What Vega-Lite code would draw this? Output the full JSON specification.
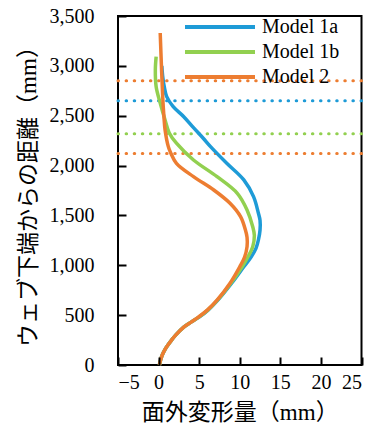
{
  "$schema": "https://vega.github.io/schema/vega-lite/v6.json",
  "width": 243.5,
  "height": 349,
  "autosize": {"type": "none"},
  "padding": {"left": 118, "top": 16, "right": 21, "bottom": 63},
  "background": "white",
  "config": {
    "view": {"stroke": "black", "strokeWidth": 2},
    "font": "Liberation Serif, Noto Sans CJK JP",
    "axis": {
      "domain": false,
      "grid": false,
      "labelColor": "black",
      "labelFontSize": 20,
      "labelFont": "Liberation Serif",
      "titleColor": "black",
      "titleFontSize": 23,
      "titleFontWeight": "normal",
      "titleFont": "Liberation Serif, Noto Sans CJK JP"
    }
  },
  "datasets": {
    "curves": [
      {"model": "Model 1a", "y": 0, "x": 0.1},
      {"model": "Model 1a", "y": 50, "x": 0.25},
      {"model": "Model 1a", "y": 100, "x": 0.45},
      {"model": "Model 1a", "y": 150, "x": 0.75},
      {"model": "Model 1a", "y": 200, "x": 1.15},
      {"model": "Model 1a", "y": 250, "x": 1.6},
      {"model": "Model 1a", "y": 300, "x": 2.1},
      {"model": "Model 1a", "y": 380, "x": 3.1},
      {"model": "Model 1a", "y": 430, "x": 4.0},
      {"model": "Model 1a", "y": 480, "x": 5.0},
      {"model": "Model 1a", "y": 550, "x": 6.1},
      {"model": "Model 1a", "y": 650, "x": 7.3},
      {"model": "Model 1a", "y": 820, "x": 9.0},
      {"model": "Model 1a", "y": 985, "x": 10.5},
      {"model": "Model 1a", "y": 1083, "x": 11.4},
      {"model": "Model 1a", "y": 1170, "x": 12.0},
      {"model": "Model 1a", "y": 1254, "x": 12.3},
      {"model": "Model 1a", "y": 1354, "x": 12.5},
      {"model": "Model 1a", "y": 1450, "x": 12.5},
      {"model": "Model 1a", "y": 1522, "x": 12.3},
      {"model": "Model 1a", "y": 1688, "x": 11.7},
      {"model": "Model 1a", "y": 1856, "x": 10.5},
      {"model": "Model 1a", "y": 2023, "x": 8.4},
      {"model": "Model 1a", "y": 2190, "x": 6.4},
      {"model": "Model 1a", "y": 2274, "x": 5.5},
      {"model": "Model 1a", "y": 2380, "x": 4.3},
      {"model": "Model 1a", "y": 2490, "x": 3.1},
      {"model": "Model 1a", "y": 2591, "x": 1.8},
      {"model": "Model 1a", "y": 2691, "x": 1.0},
      {"model": "Model 1a", "y": 2791, "x": 0.7},
      {"model": "Model 1a", "y": 2900, "x": 0.5},
      {"model": "Model 1a", "y": 3000, "x": 0.4},
      {"model": "Model 1b", "y": 0, "x": 0.1},
      {"model": "Model 1b", "y": 50, "x": 0.25},
      {"model": "Model 1b", "y": 100, "x": 0.45},
      {"model": "Model 1b", "y": 150, "x": 0.75},
      {"model": "Model 1b", "y": 200, "x": 1.15},
      {"model": "Model 1b", "y": 250, "x": 1.6},
      {"model": "Model 1b", "y": 300, "x": 2.1},
      {"model": "Model 1b", "y": 380, "x": 3.1},
      {"model": "Model 1b", "y": 430, "x": 4.0},
      {"model": "Model 1b", "y": 480, "x": 4.95},
      {"model": "Model 1b", "y": 550, "x": 6.05},
      {"model": "Model 1b", "y": 650, "x": 7.25},
      {"model": "Model 1b", "y": 820, "x": 8.9},
      {"model": "Model 1b", "y": 985, "x": 10.3},
      {"model": "Model 1b", "y": 1083, "x": 11.0},
      {"model": "Model 1b", "y": 1187, "x": 11.6},
      {"model": "Model 1b", "y": 1300, "x": 11.8},
      {"model": "Model 1b", "y": 1387, "x": 11.6},
      {"model": "Model 1b", "y": 1555, "x": 10.9},
      {"model": "Model 1b", "y": 1722, "x": 9.7},
      {"model": "Model 1b", "y": 1889, "x": 7.2},
      {"model": "Model 1b", "y": 2056, "x": 4.3},
      {"model": "Model 1b", "y": 2224, "x": 2.2},
      {"model": "Model 1b", "y": 2330, "x": 1.3},
      {"model": "Model 1b", "y": 2457, "x": 0.8},
      {"model": "Model 1b", "y": 2627, "x": 0.2},
      {"model": "Model 1b", "y": 2791, "x": -0.3},
      {"model": "Model 1b", "y": 2958, "x": -0.4},
      {"model": "Model 1b", "y": 3092, "x": -0.3},
      {"model": "Model 2", "y": 0, "x": 0.1},
      {"model": "Model 2", "y": 50, "x": 0.25},
      {"model": "Model 2", "y": 100, "x": 0.45},
      {"model": "Model 2", "y": 150, "x": 0.75},
      {"model": "Model 2", "y": 200, "x": 1.15},
      {"model": "Model 2", "y": 250, "x": 1.6},
      {"model": "Model 2", "y": 300, "x": 2.1},
      {"model": "Model 2", "y": 380, "x": 3.1},
      {"model": "Model 2", "y": 430, "x": 4.0},
      {"model": "Model 2", "y": 480, "x": 4.9},
      {"model": "Model 2", "y": 550, "x": 6.0},
      {"model": "Model 2", "y": 650, "x": 7.2},
      {"model": "Model 2", "y": 820, "x": 8.8},
      {"model": "Model 2", "y": 985, "x": 10.0},
      {"model": "Model 2", "y": 1083, "x": 10.6},
      {"model": "Model 2", "y": 1187, "x": 10.9},
      {"model": "Model 2", "y": 1280, "x": 10.9},
      {"model": "Model 2", "y": 1354, "x": 10.7},
      {"model": "Model 2", "y": 1488, "x": 10.1},
      {"model": "Model 2", "y": 1622, "x": 8.8},
      {"model": "Model 2", "y": 1755, "x": 6.8},
      {"model": "Model 2", "y": 1889, "x": 4.3},
      {"model": "Model 2", "y": 2023, "x": 2.2},
      {"model": "Model 2", "y": 2126, "x": 1.5},
      {"model": "Model 2", "y": 2190, "x": 1.2},
      {"model": "Model 2", "y": 2357, "x": 0.8},
      {"model": "Model 2", "y": 2500, "x": 0.65},
      {"model": "Model 2", "y": 2700, "x": 0.5},
      {"model": "Model 2", "y": 3000, "x": 0.35},
      {"model": "Model 2", "y": 3330, "x": 0.2}
    ],
    "refs": [
      {"model": "Model 2", "y": 2850},
      {"model": "Model 1a", "y": 2650},
      {"model": "Model 1b", "y": 2320},
      {"model": "Model 2", "y": 2120}
    ]
  },
  "layer": [
    {
      "data": {"name": "refs"},
      "mark": {"type": "rule", "strokeWidth": 3, "strokeDash": [0.5, 7.6], "strokeCap": "round"},
      "encoding": {
        "y": {"field": "y", "type": "quantitative"},
        "color": {"field": "model", "type": "nominal"}
      }
    },
    {
      "mark": {"type": "rule", "color": "black", "strokeWidth": 2},
      "encoding": {"x": {"datum": 0, "type": "quantitative"}}
    },
    {
      "data": {"name": "curves"},
      "mark": {"type": "line", "strokeWidth": 3.5, "interpolate": "catmull-rom"},
      "encoding": {
        "x": {
          "field": "x", "type": "quantitative",
          "scale": {"domain": [-5, 25], "nice": false, "zero": false},
          "axis": {
            "values": [-5, 0, 5, 10, 15, 20, 25],
            "ticks": true, "tickColor": "black", "tickWidth": 2, "tickSize": 8,
            "offset": -8, "zindex": 2,
            "labelPadding": 7,
            "title": "面外変形量（mm）",
            "titleX": 121.75, "titleY": 55,
            "titleAlign": "center", "titleBaseline": "middle"
          }
        },
        "y": {
          "field": "y", "type": "quantitative",
          "scale": {"domain": [0, 3500], "nice": false},
          "axis": {
            "values": [0, 500, 1000, 1500, 2000, 2500, 3000, 3500],
            "ticks": true, "tickColor": "black", "tickWidth": 2, "tickSize": 8,
            "offset": -8, "zindex": 2,
            "format": ",d",
            "labelPadding": 24,
            "title": "ウェブ下端からの距離（mm）",
            "titleX": -98, "titleY": 174.5,
            "titleAngle": -90,
            "titleAlign": "center", "titleBaseline": "middle"
          }
        },
        "order": {"field": "y", "type": "quantitative"},
        "color": {
          "field": "model", "type": "nominal",
          "scale": {"domain": ["Model 1a", "Model 1b", "Model 2"], "range": ["#1E9BD7", "#92D050", "#ED7D31"]},
          "legend": {
            "orient": "none", "legendX": 65, "legendY": -1,
            "title": null, "padding": 0,
            "symbolType": "M-1,0H6", "symbolSize": 400, "symbolStrokeWidth": 4,
            "labelOffset": 55, "labelFontSize": 20, "labelFont": "Liberation Serif",
            "labelColor": "black", "rowPadding": 3
          }
        }
      }
    }
  ]
}
